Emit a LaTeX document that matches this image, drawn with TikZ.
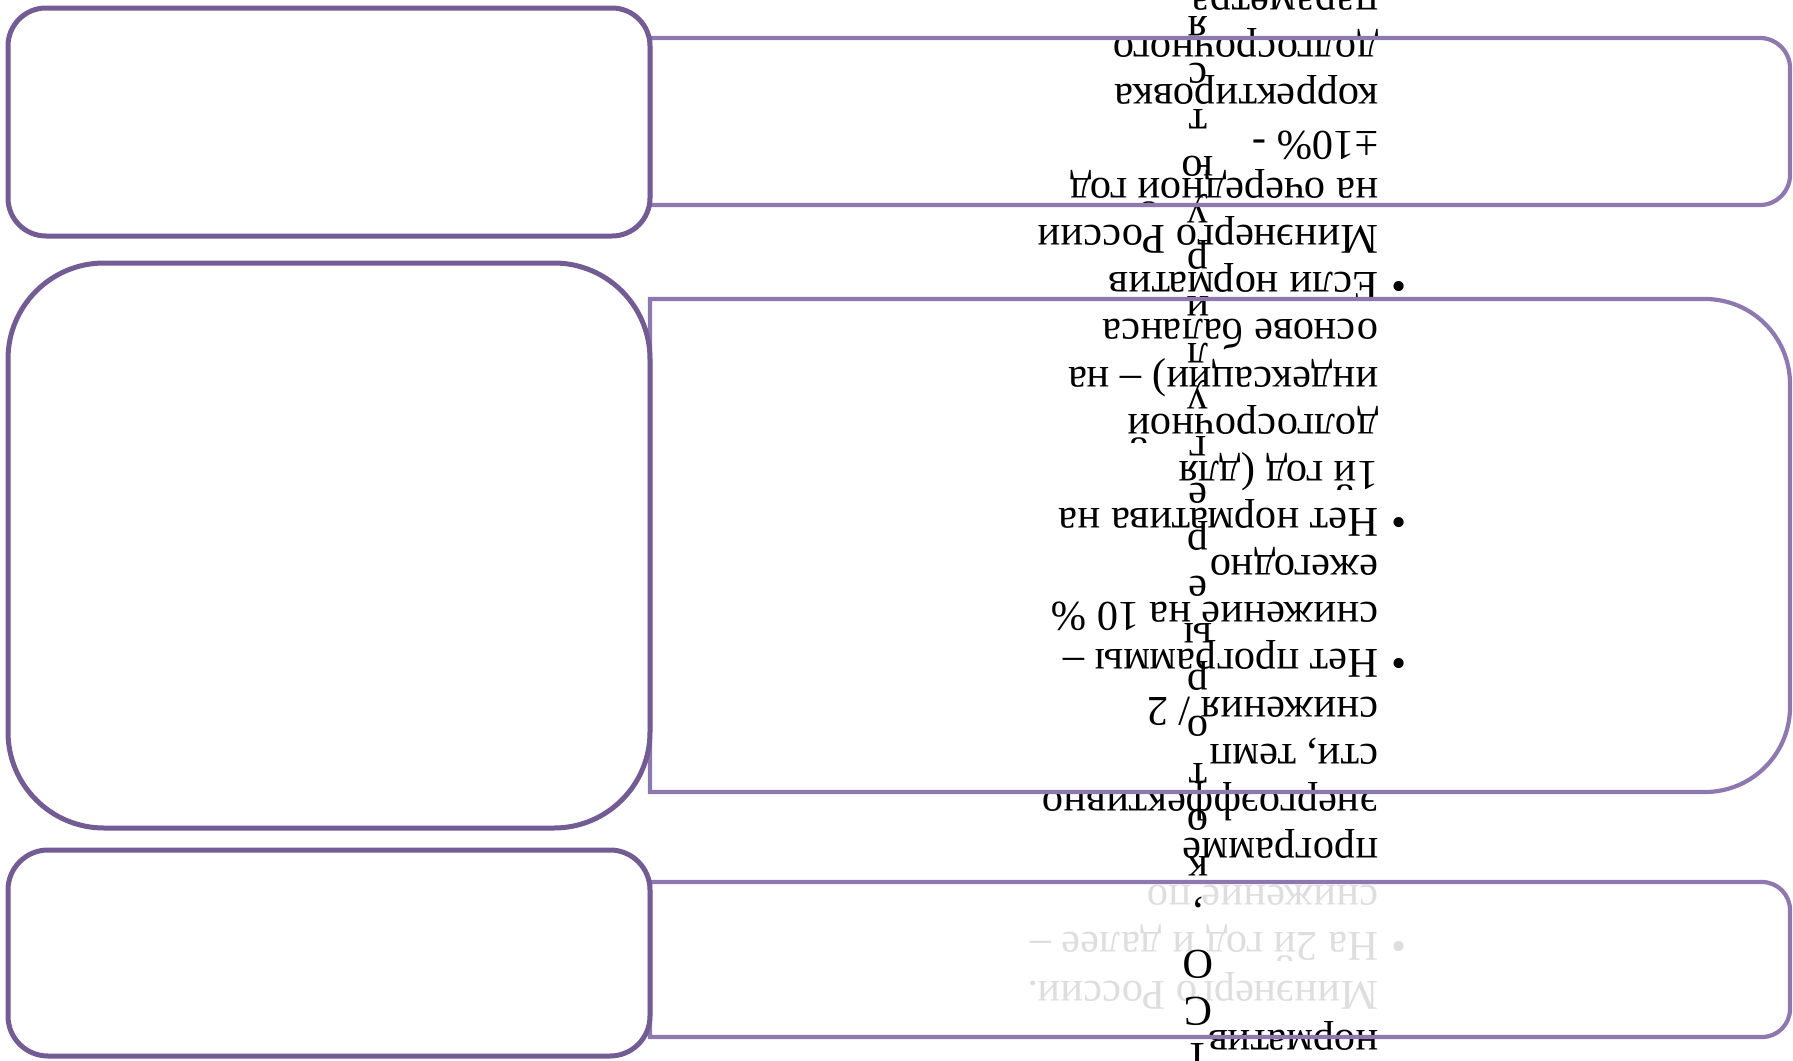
\documentclass[tikz,border=0pt]{standalone}
\usepackage{fontspec}
\setmainfont{Liberation Serif}
\definecolor{lbox}{HTML}{735C94}
\definecolor{rbox}{HTML}{8E78B0}
\definecolor{ghost}{HTML}{DEDEDE}
\newcommand\blt{\llap{\textbullet\hspace{7pt}}}
\begin{document}
\begin{tikzpicture}[x=0.5pt,y=-0.5pt,
  lboxst/.style={draw=lbox, line width=2.5pt},
  rboxst/.style={draw=rbox, line width=2.1pt},
  txt/.style={inner sep=0pt, outer sep=0pt, rotate=180, anchor=base west, font=\fontsize{21.2}{25}\selectfont, text=black},
  ghosttxt/.style={txt, text=ghost},
  colst/.style={inner sep=0pt, outer sep=0pt, rotate=180, anchor=base, font=\fontsize{21.2}{25}\selectfont, text=black}]
\useasboundingbox (0,0) rectangle (1793,1060);
\fill[white] (0,0) rectangle (1793,1060);

% text lines (upside down)
\node[txt] (tm1) at (1378,-10) {параметра};
\node[txt] (t0) at (1378,37) {долгосрочного};
\node[txt] (t1) at (1378,84.15) {корректировка};
\node[txt] (t2) at (1378,131.3) {±10\% -};
\node[txt] (t3) at (1378,178.45) {на очередной год};
\node[txt] (t4) at (1378,225.6) {Минэнерго России};
\node[txt] (t5) at (1378,272.75) {\blt Если норматив};
\node[txt] (t6) at (1378,319.9) {основе баланса};
\node[txt] (t7) at (1378,367.05) {индексации) – на};
\node[txt] (t8) at (1378,414.2) {долгосрочной};
\node[txt] (t9) at (1378,461.35) {1й год (для};
\node[txt] (t10) at (1378,508.5) {\blt Нет норматива на};
\node[txt] (t11) at (1378,555.65) {ежегодно};
\node[txt] (t12) at (1378,602.8) {снижение на 10 \%};
\node[txt] (t13) at (1378,649.95) {\blt Нет программы –};
\node[txt] (t14) at (1378,697.1) {снижения / 2};
\node[txt] (t15) at (1378,744.25) {сти, темп};
\node[txt] (t16) at (1378,791.4) {энергоэффективно};
\node[txt] (t17) at (1378,838.55) {программе};
\node[ghosttxt] (t18) at (1378,885.7) {снижение по};
\node[ghosttxt] (t19) at (1378,932.85) {\blt На 2й год и далее –};
\node[ghosttxt] (t20) at (1378,981) {Минэнерго России.};
\node[txt] (t21) at (1378,1030) {норматив};

% vertical column of single letters (upside down)
\foreach \k/\l in {-1/я,0/с,1/т,2/ю,3/у,4/р,5/и,6/л,7/у,8/г,9/е,10/р,11/е,12/ы,13/р,14/о,15/т,16/о,17/к,19/О,20/С,21/Т}{
  \node[colst] (c\k) at (1198,{63+46.7*\k}) {\l};
}
\node[colst] (c18) at (1198,{63+46.7*18}) {,};

% right boxes
\draw[rboxst] (650,38) -- (1760,38) arc[start angle=-90,end angle=0,radius=30]
  -- (1790,175) arc[start angle=0,end angle=90,radius=30] -- (650,205) -- cycle;
\draw[rboxst] (650,299) -- (1705,299) arc[start angle=-90,end angle=0,radius=85]
  -- (1790,707) arc[start angle=0,end angle=90,radius=85] -- (650,792) -- cycle;
\draw[rboxst] (650,882) -- (1762,882) arc[start angle=-90,end angle=0,radius=28]
  -- (1790,1009) arc[start angle=0,end angle=90,radius=28] -- (650,1037) -- cycle;

% left boxes
\draw[lboxst, rounded corners=19pt] (8,8) rectangle (650,236);
\draw[lboxst, rounded corners=48pt] (8,263) rectangle (650,828);
\draw[lboxst, rounded corners=20pt] (8,850) rectangle (650,1056);
\end{tikzpicture}
\end{document}
